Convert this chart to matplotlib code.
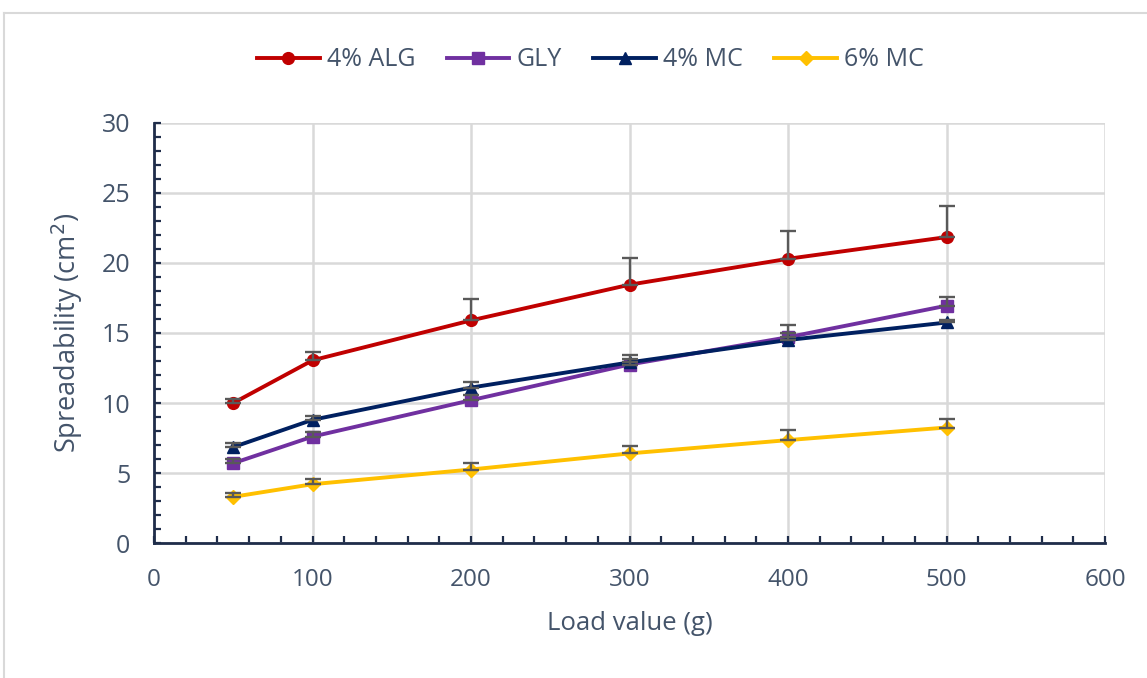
import numpy as np
import matplotlib.pyplot as plt
from matplotlib.ticker import MultipleLocator
from matplotlib.lines import Line2D

# data
load = [50, 100, 200, 300, 400, 500]
alg = [10.0, 13.05, 15.9, 18.45, 20.3, 21.85]
alg_err = [0.3, 0.6, 1.5, 1.9, 2.0, 2.2]
gly = [5.7, 7.6, 10.2, 12.75, 14.7, 16.95]
gly_err = [0.3, 0.3, 0.4, 0.4, 0.9, 0.6]
mc4 = [6.85, 8.8, 11.1, 12.9, 14.5, 15.75]
mc4_err = [0.3, 0.3, 0.4, 0.5, 0.5, 0.2]
mc6 = [3.3, 4.2, 5.25, 6.4, 7.35, 8.25]
mc6_err = [0.3, 0.4, 0.5, 0.5, 0.7, 0.6]

series = [
    ('4% ALG', alg, alg_err, '#C00000', 'o', 8.5),
    ('GLY', gly, gly_err, '#7030A0', 's', 8),
    ('4% MC', mc4, mc4_err, '#002060', '^', 8),
    ('6% MC', mc6, mc6_err, '#FFC000', 'D', 7),
]

txt = '#44546A'
plt.rcParams['font.family'] = ['Open Sans', 'DejaVu Sans']

fig = plt.figure(figsize=(11.47, 6.78), dpi=100)
ax = fig.add_axes([0.1343, 0.1991, 0.8291, 0.6195])

# outer chart frame
fig.add_artist(Line2D([4/1147, 4/1147], [0, 1 - 13/678], color='#D9D9D9', lw=1.5,
                      transform=fig.transFigure))
fig.add_artist(Line2D([4/1147, 1], [1 - 13/678, 1 - 13/678], color='#D9D9D9', lw=1.5,
                      transform=fig.transFigure))

handles = []
for name, y, err, col, mk, ms in series:
    h, = ax.plot(load, y, color=col, lw=2.8, marker=mk, ms=ms, label=name, zorder=3)
    handles.append(h)
for name, y, err, col, mk, ms in series:
    ax.errorbar(load, y, yerr=[np.zeros(len(err)), err], fmt='none', ecolor='#595959',
                elinewidth=1.7, capsize=5.5, capthick=1.7, zorder=4)

ax.set_xlim(0, 600)
ax.set_ylim(0, 30)
ax.xaxis.set_major_locator(MultipleLocator(100))
ax.xaxis.set_minor_locator(MultipleLocator(20))
ax.yaxis.set_major_locator(MultipleLocator(5))
ax.yaxis.set_minor_locator(MultipleLocator(1))
ax.grid(True, which='major', color='#D9D9D9', lw=1.8)
ax.set_axisbelow(True)
for s in ['top', 'right']:
    ax.spines[s].set_visible(False)
for s in ['left', 'bottom']:
    ax.spines[s].set_color('#1F2D4A')
    ax.spines[s].set_linewidth(2)
ax.tick_params(which='both', direction='in', length=5, width=1.6, color='#1F2D4A')
ax.tick_params(axis='x', which='major', pad=18, labelsize=17.5, labelcolor=txt)
ax.tick_params(axis='y', which='major', pad=17, labelsize=18, labelcolor=txt)

ax.set_xlabel('Load value (g)', fontsize=18.5, color=txt, labelpad=14)
ax.set_ylabel('Spreadability (cm$^2$)', fontsize=19.5, color=txt, labelpad=12)

fig.legend(handles=handles, loc='center', bbox_to_anchor=(0.515, 1 - 60/678), ncol=4,
           frameon=False, fontsize=18, labelcolor=txt, handlelength=2.5, columnspacing=1.25,
           handletextpad=0.3)

fig.savefig('out.png', dpi=100, facecolor='white')
